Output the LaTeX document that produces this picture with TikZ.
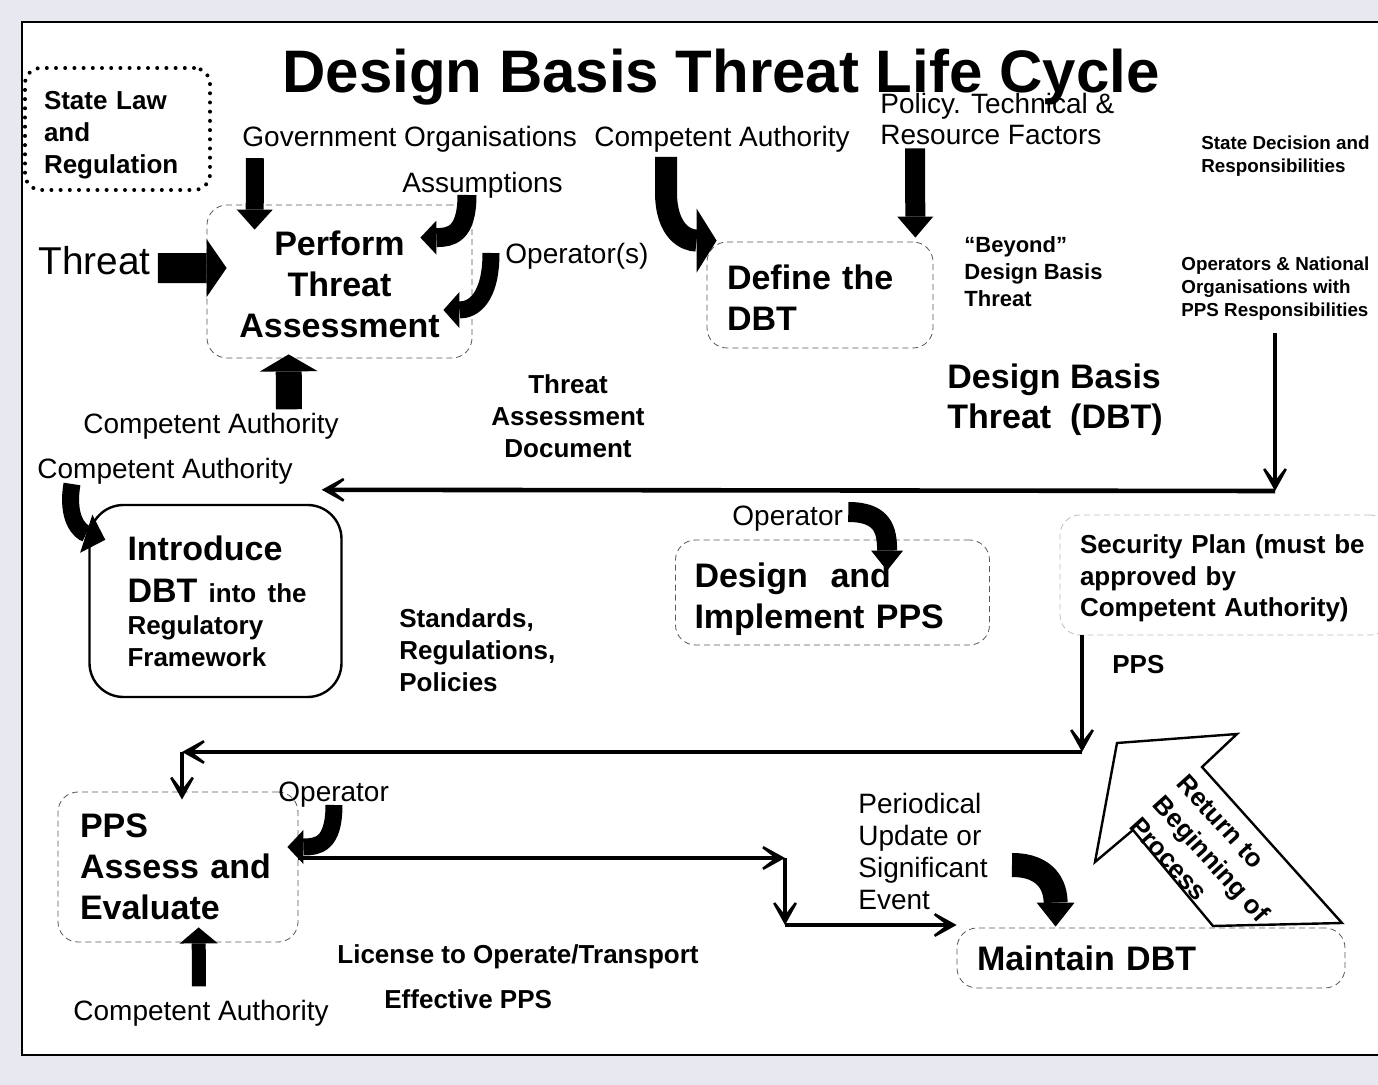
\documentclass[tikz,border=0pt]{standalone}
\usepackage{fontspec}
\setmainfont{Liberation Sans}
\usetikzlibrary{arrows.meta,calc}

\definecolor{scanbg}{RGB}{232,232,240}
\newcommand\topgap[1]{\rule{0pt}{#1}}

\begin{document}
\begin{tikzpicture}[x=0.5pt, y=-0.5pt,
    stage/.style={draw=black!65, densely dashed, line width=0.4pt, rounded corners=10pt,
                  inner ysep=0pt, align=left, font=\bfseries\fontsize{17}{20.5}\selectfont},
    tag/.style={inner sep=0pt, font=\fontsize{14}{16}\selectfont},
    note/.style={inner sep=0pt, align=left, font=\bfseries\fontsize{13}{16}\selectfont},
    smallnote/.style={inner sep=0pt, align=left, font=\bfseries\fontsize{9.4}{11.5}\selectfont},
    flow/.style={line width=2.3pt, -{Stealth[length=18pt, width=20pt, inset=13pt]}},
    block/.style n args={3}{line width=#1, -{Triangle[length=#2, width=#3, line width=0pt]}}
]

% Page and frame
\clip (0,0) rectangle (1378,1085);
\fill[scanbg] (0,0) rectangle (1378,1085);
\draw[line width=1pt, fill=white] (22,22) rectangle (1400,1055);

% Title
\node[inner sep=0pt, anchor=base, font=\bfseries\fontsize{30}{36}\selectfont] (title) at (721,93) {Design Basis Threat Life Cycle};

% Stages
\node[stage, align=center, text width=132.5pt, inner xsep=0pt, minimum height=76.5pt] (perform) at (339.5,281.5) {\topgap{15.4pt}Perform\\Threat\\Assessment};
\node[stage, text width=93pt, inner xsep=10pt, minimum height=53pt] (define) at (820,295) {\topgap{15.4pt}Define the\\DBT};
\node[stage, draw=black, solid, line width=1.2pt, rounded corners=17pt, text width=88pt, inner xsep=19pt, minimum height=96pt,
      font=\bfseries\fontsize{17}{16}\selectfont] (intro) at (215.5,601)
     {Introduce\\[5pt]\mbox{DBT {\fontsize{13}{16}\selectfont into the}}\\{\fontsize{13}{16}\selectfont Regulatory\\Framework}};
\node[stage, text width=138pt, inner xsep=9.5pt, minimum height=52.5pt] (design) at (832.5,592.5) {\topgap{19.4pt}Design\ \ and\\Implement PPS};
\node[stage, text width=98pt, inner xsep=11pt, minimum height=75pt] (assess) at (178,867) {PPS\\Assess and\\Evaluate};
\node[stage, text width=174pt, inner xsep=10pt, minimum height=30pt] (maintain) at (1151,958) {Maintain DBT};

% Side boxes
\node[note, draw, line width=2pt, dash pattern=on 0pt off 4.6pt, line cap=round, rounded corners=8pt,
      text width=73.5pt, inner xsep=9.5pt, minimum height=61pt] (statelaw) at (117.5,129) {\topgap{15.5pt}State Law\\and\\Regulation};
\node[note, draw=black!25, densely dashed, line width=0.4pt, rounded corners=10pt,
      text width=145pt, inner xsep=10pt, minimum height=60pt] (secplan) at (1225,575) {\topgap{12.7pt}Security Plan (must be\\approved by\\Competent Authority)};

% Labels
\node[tag, anchor=base west] (gov) at (242,147) {Government Organisations};
\node[tag, anchor=base west] (caTop) at (594,147) {Competent Authority};
\node[tag, anchor=north west, align=left, font=\fontsize{14}{15.5}\selectfont] (policy) at (880,93) {Policy. Technical \&\\Resource Factors};
\node[smallnote, anchor=north west] (statedec) at (1201,135) {State Decision and\\Responsibilities};
\node[tag, anchor=base west] (assum) at (402,193) {Assumptions};
\node[tag, anchor=base west] (operators) at (505,264) {Operator(s)};
\node[inner sep=0pt, anchor=base west, font=\fontsize{19.4}{23}\selectfont] (threat) at (38,275) {Threat};
\node[inner sep=0pt, anchor=north west, align=left, font=\bfseries\fontsize{11}{13.5}\selectfont] (beyond) at (964,236) {“Beyond”\\Design Basis\\Threat};
\node[smallnote, anchor=north west] (opsnat) at (1181,256) {Operators \& National\\Organisations with\\PPS Responsibilities};
\node[inner sep=0pt, anchor=north west, align=left, font=\bfseries\fontsize{17}{20}\selectfont] (dbt) at (947,363) {Design Basis\\Threat\ \ (DBT)};
\node[note, anchor=north, align=center] (tadoc) at (568,374) {Threat\\Assessment\\Document};
\node[tag, anchor=base west] (caMid) at (83,434) {Competent Authority};
\node[tag, anchor=base west] (caLeft) at (37,479) {Competent Authority};
\node[note, anchor=north west] (standards) at (399,608) {Standards,\\Regulations,\\Policies};
\node[tag, anchor=base west] (opTop) at (732,526) {Operator};
\node[note, anchor=base west] (pps) at (1112,674) {PPS};
\node[tag, anchor=base west] (opBot) at (278,802) {Operator};
\node[tag, anchor=north west, align=left] (periodical) at (858,793) {Periodical\\Update or\\Significant\\Event};
\node[note, anchor=base west] (license) at (337,963) {License to Operate/Transport};
\node[note, anchor=base west] (effective) at (384,1008) {Effective PPS};
\node[tag, anchor=base west] (caBot) at (73,1020) {Competent Authority};

% Block arrows
\draw[block={9pt}{10pt}{18pt}] ($(gov.south west)+(13,5)$) -- ($(perform.north west)+(48,25)$);
\draw[block={10pt}{10.5pt}{18pt}] ($(policy.south west)+(35,3)$) -- ($(define.north east)+(-18,-4)$);
\draw[block={15pt}{10pt}{29pt}] ($(threat.east)+(7,7)$) -- ($(perform.west)+(20,-13.5)$);
\draw[block={13pt}{8.5pt}{29pt}] ($(caMid.north west)+(206,-4)$) -- ($(perform.south west)+(82,-4)$);
\draw[block={7pt}{8pt}{19pt}] ($(caBot.north west)+(126,-13)$) -- ($(assess.south west)+(141,-15)$);

% Bent arrows
\draw[block={9.5pt}{8pt}{17pt}] ($(assum.base west)+(65,2)$) .. controls +(0,40) and +(30,0) .. ($(perform.north east)+(-52,33)$);
\draw[block={8.5pt}{8pt}{18pt}] ($(operators.base west)+(-14,-11)$) .. controls +(0,45) and +(30,0) .. ($(perform.east)+(-29,28.5)$);
\draw[block={11pt}{10pt}{32pt}] ($(caTop.base west)+(72,10)$) -- ++(0,35) .. controls +(0,40) and +(-30,0) .. ($(define.north west)+(10,-1)$);
\draw[block={8.5pt}{10pt}{20pt}] ($(caLeft.base west)+(35,5)$) .. controls +(-6,35) and +(-25,-8) .. ($(intro.north west)+(17,36)$);
\draw[block={10pt}{10pt}{16pt}] ($(opTop.base east)+(5,-14)$) .. controls +(35,0) and +(0,-40) .. ($(design.north west)+(212,31)$);
\draw[block={8.5pt}{8pt}{17pt}] ($(opBot.base west)+(56,3)$) .. controls +(0,40) and +(30,0) .. ($(assess.east)+(-11,-20)$);
\draw[block={12pt}{12pt}{19pt}] ($(periodical.north west)+(154,72)$) .. controls +(35,0) and +(0,-40) .. ($(maintain.north west)+(99,-1)$);

% Flow lines
\coordinate (dbtTurn) at (1275,491);
\draw[flow] ($(opsnat.south west)+(94,13)$) -- (dbtTurn);
\draw[flow] (dbtTurn) -- ($(intro.north east)+(-21,-14)$);
\coordinate (ppsTurn) at (1082,752);
\coordinate (evalTurn) at (182,752);
\draw[flow] (secplan.south -| ppsTurn) -- (ppsTurn);
\draw[flow] (ppsTurn) -- (evalTurn);
\draw[flow] (evalTurn) -- ($(assess.north -| evalTurn)+(0,8)$);
\coordinate (licTurn) at (785,858);
\coordinate (licDown) at (785,925);
\draw[flow] (assess.east |- licTurn) -- (licTurn);
\draw[flow] (licTurn) -- (licDown);
\draw[flow] (licDown) -- (maintain.west |- licDown);

% Return arrow
\draw[line width=1.2pt, fill=white] (1117,743) -- (1237,734) -- (1202,767) -- (1342,923) -- (1213,926) -- (1133,830) -- (1095,862) -- cycle;
\node[note, rotate=-48, anchor=north west] (returnNote) at (1189,772) {Return to\\Beginning of\\Process};

\end{tikzpicture}
\end{document}
